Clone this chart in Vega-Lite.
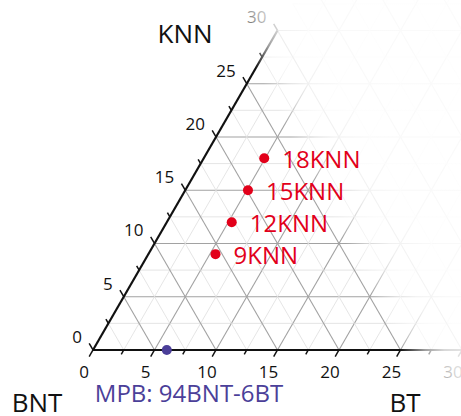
{
  "$schema": "https://vega.github.io/schema/vega-lite/v6.json",
  "width": 461,
  "height": 416,
  "padding": 0,
  "autosize": {"type": "none"},
  "background": "white",
  "config": {"view": {"stroke": null}, "font": "Open Sans"},
  "datasets": {
    "levels": [{"v": 2.5}, {"v": 5}, {"v": 7.5}, {"v": 10}, {"v": 12.5}, {"v": 15}, {"v": 17.5}, {"v": 20}, {"v": 22.5}, {"v": 25}, {"v": 27.5}, {"v": 30}, {"v": 32.5}, {"v": 35}, {"v": 37.5}, {"v": 40}, {"v": 42.5}, {"v": 45}, {"v": 47.5}],
    "ticks": [{"v": 0}, {"v": 2.5}, {"v": 5}, {"v": 7.5}, {"v": 10}, {"v": 12.5}, {"v": 15}, {"v": 17.5}, {"v": 20}, {"v": 22.5}, {"v": 25}, {"v": 27.5}, {"v": 30}],
    "labels": [{"v": 0}, {"v": 5}, {"v": 10}, {"v": 15}, {"v": 20}, {"v": 25}, {"v": 30}],
    "points": [
      {"label": "18KNN", "group": "KNN", "BNT": 77.08, "BT": 4.92, "KNN": 18},
      {"label": "15KNN", "group": "KNN", "BNT": 79.9, "BT": 5.1, "KNN": 15},
      {"label": "12KNN", "group": "KNN", "BNT": 82.72, "BT": 5.28, "KNN": 12},
      {"label": "9KNN", "group": "KNN", "BNT": 85.54, "BT": 5.46, "KNN": 9},
      {"label": "MPB: 94BNT-6BT", "group": "MPB", "BNT": 94, "BT": 6, "KNN": 0}
    ]
  },
  "layer": [
    {
      "data": {"name": "levels"},
      "transform": [
        {"calculate": "datum.v / 2", "as": "xa"},
        {"calculate": "60 + datum.v / 2", "as": "xb"},
        {"calculate": "datum.v * 0.8660254", "as": "ya"}
      ],
      "mark": {"type": "rule", "clip": true},
      "encoding": {
        "x": {"field": "xa", "type": "quantitative", "scale": {"domain": [-7.561, 29.919], "nice": false, "zero": false}, "axis": null},
        "x2": {"field": "xb"},
        "y": {"field": "ya", "type": "quantitative", "scale": {"domain": [-5.366, 28.455], "nice": false, "zero": false}, "axis": null},
        "y2": {"field": "ya"},
        "color": {"condition": {"test": "datum.v % 5 === 0", "value": "#a2a2a2"}, "value": "#dedede"},
        "strokeWidth": {"condition": {"test": "datum.v % 5 === 0", "value": 1.1}, "value": 0.8}
      }
    },
    {
      "data": {"name": "levels"},
      "transform": [
        {"calculate": "datum.v", "as": "xa"},
        {"calculate": "datum.v + 30", "as": "xb"},
        {"calculate": "0", "as": "ya"},
        {"calculate": "51.96", "as": "yb"}
      ],
      "mark": {"type": "rule", "clip": true},
      "encoding": {
        "x": {"field": "xa", "type": "quantitative", "scale": {"domain": [-7.561, 29.919], "nice": false, "zero": false}, "axis": null},
        "x2": {"field": "xb"},
        "y": {"field": "ya", "type": "quantitative", "scale": {"domain": [-5.366, 28.455], "nice": false, "zero": false}, "axis": null},
        "y2": {"field": "yb"},
        "color": {"condition": {"test": "datum.v % 5 === 0", "value": "#a2a2a2"}, "value": "#dedede"},
        "strokeWidth": {"condition": {"test": "datum.v % 5 === 0", "value": 1.1}, "value": 0.8}
      }
    },
    {
      "data": {"name": "levels"},
      "transform": [
        {"calculate": "datum.v", "as": "xa"},
        {"calculate": "datum.v / 2", "as": "xb"},
        {"calculate": "0", "as": "ya"},
        {"calculate": "datum.v * 0.8660254", "as": "yb"}
      ],
      "mark": {"type": "rule", "clip": true},
      "encoding": {
        "x": {"field": "xa", "type": "quantitative", "scale": {"domain": [-7.561, 29.919], "nice": false, "zero": false}, "axis": null},
        "x2": {"field": "xb"},
        "y": {"field": "ya", "type": "quantitative", "scale": {"domain": [-5.366, 28.455], "nice": false, "zero": false}, "axis": null},
        "y2": {"field": "yb"},
        "color": {"condition": {"test": "datum.v % 5 === 0", "value": "#a2a2a2"}, "value": "#dedede"},
        "strokeWidth": {"condition": {"test": "datum.v % 5 === 0", "value": 1.1}, "value": 0.8}
      }
    },
    {
      "data": {"values": [{}]},
      "mark": {"type": "rule", "color": "#111111", "strokeWidth": 2.2, "clip": true},
      "encoding": {
        "x": {"datum": 0, "type": "quantitative", "scale": {"domain": [-7.561, 29.919], "nice": false, "zero": false}, "axis": null},
        "x2": {"datum": 31},
        "y": {"datum": 0, "type": "quantitative", "scale": {"domain": [-5.366, 28.455], "nice": false, "zero": false}, "axis": null},
        "y2": {"datum": 0}
      }
    },
    {
      "data": {"values": [{}]},
      "mark": {"type": "rule", "color": "#111111", "strokeWidth": 2.2, "clip": true},
      "encoding": {
        "x": {"datum": 0, "type": "quantitative", "scale": {"domain": [-7.561, 29.919], "nice": false, "zero": false}, "axis": null},
        "x2": {"datum": 15},
        "y": {"datum": 0, "type": "quantitative", "scale": {"domain": [-5.366, 28.455], "nice": false, "zero": false}, "axis": null},
        "y2": {"datum": 25.98}
      }
    },
    {
      "data": {"name": "ticks"},
      "transform": [
        {"calculate": "datum.v % 5 === 0 ? 0.62 : 0.4", "as": "len"},
        {"calculate": "datum.v", "as": "xa"},
        {"calculate": "0", "as": "ya"},
        {"calculate": "datum.v - 0.5 * datum.len", "as": "xb"},
        {"calculate": "-0.8660254 * datum.len", "as": "yb"}
      ],
      "mark": {"type": "rule", "color": "#111111", "strokeWidth": 1.5, "clip": true},
      "encoding": {
        "x": {"field": "xa", "type": "quantitative", "scale": {"domain": [-7.561, 29.919], "nice": false, "zero": false}, "axis": null},
        "x2": {"field": "xb"},
        "y": {"field": "ya", "type": "quantitative", "scale": {"domain": [-5.366, 28.455], "nice": false, "zero": false}, "axis": null},
        "y2": {"field": "yb"}
      }
    },
    {
      "data": {"name": "ticks"},
      "transform": [
        {"calculate": "datum.v % 5 === 0 ? 0.62 : 0.4", "as": "len"},
        {"calculate": "datum.v / 2", "as": "xa"},
        {"calculate": "datum.v * 0.8660254", "as": "ya"},
        {"calculate": "datum.xa - 0.5 * datum.len", "as": "xb"},
        {"calculate": "datum.ya + 0.8660254 * datum.len", "as": "yb"}
      ],
      "mark": {"type": "rule", "color": "#111111", "strokeWidth": 1.5, "clip": true},
      "encoding": {
        "x": {"field": "xa", "type": "quantitative", "scale": {"domain": [-7.561, 29.919], "nice": false, "zero": false}, "axis": null},
        "x2": {"field": "xb"},
        "y": {"field": "ya", "type": "quantitative", "scale": {"domain": [-5.366, 28.455], "nice": false, "zero": false}, "axis": null},
        "y2": {"field": "yb"}
      }
    },
    {
      "data": {"name": "labels"},
      "transform": [
        {"calculate": "datum.v", "as": "xa"},
        {"calculate": "0", "as": "ya"}
      ],
      "mark": {"type": "text", "align": "center", "baseline": "alphabetic", "dx": -9, "dy": 28, "fontSize": 17, "color": "#111111"},
      "encoding": {
        "x": {"field": "xa", "type": "quantitative", "scale": {"domain": [-7.561, 29.919], "nice": false, "zero": false}, "axis": null},
        "y": {"field": "ya", "type": "quantitative", "scale": {"domain": [-5.366, 28.455], "nice": false, "zero": false}, "axis": null},
        "text": {"field": "v", "type": "quantitative"}
      }
    },
    {
      "data": {"name": "labels"},
      "transform": [
        {"calculate": "datum.v / 2", "as": "xa"},
        {"calculate": "datum.v * 0.8660254", "as": "ya"}
      ],
      "mark": {"type": "text", "align": "right", "baseline": "alphabetic", "dx": -11, "dy": -7, "fontSize": 17, "color": "#111111"},
      "encoding": {
        "x": {"field": "xa", "type": "quantitative", "scale": {"domain": [-7.561, 29.919], "nice": false, "zero": false}, "axis": null},
        "y": {"field": "ya", "type": "quantitative", "scale": {"domain": [-5.366, 28.455], "nice": false, "zero": false}, "axis": null},
        "text": {"field": "v", "type": "quantitative"}
      }
    },
    {
      "data": {"values": [{}]},
      "mark": {
        "type": "rect",
        "clip": true,
        "strokeWidth": 0,
        "fill": {
          "gradient": "linear",
          "x1": 0.5, "y1": 0.5,
          "x2": 0.945, "y2": 0.2715,
          "stops": [
            {"offset": 0, "color": "rgba(255,255,255,0)"},
            {"offset": 0.555, "color": "rgba(255,255,255,0)"},
            {"offset": 0.6, "color": "rgba(255,255,255,0.6)"},
            {"offset": 0.635, "color": "rgba(255,255,255,0.84)"},
            {"offset": 0.7, "color": "rgba(255,255,255,0.93)"},
            {"offset": 1, "color": "rgba(255,255,255,0.96)"}
          ]
        }
      },
      "encoding": {
        "x": {"datum": -40, "type": "quantitative", "scale": {"domain": [-7.561, 29.919], "nice": false, "zero": false}, "axis": null},
        "x2": {"datum": 40},
        "y": {"datum": -40, "type": "quantitative", "scale": {"domain": [-5.366, 28.455], "nice": false, "zero": false}, "axis": null},
        "y2": {"datum": 40}
      }
    },
    {
      "data": {"name": "points"},
      "transform": [
        {"calculate": "datum.BT + datum.KNN / 2", "as": "xa"},
        {"calculate": "datum.KNN * 0.8660254", "as": "ya"}
      ],
      "mark": {"type": "circle", "size": 100, "opacity": 1},
      "encoding": {
        "x": {"field": "xa", "type": "quantitative", "scale": {"domain": [-7.561, 29.919], "nice": false, "zero": false}, "axis": null},
        "y": {"field": "ya", "type": "quantitative", "scale": {"domain": [-5.366, 28.455], "nice": false, "zero": false}, "axis": null},
        "color": {"field": "group", "type": "nominal", "scale": {"domain": ["KNN", "MPB"], "range": ["#e2001a", "#4b3f99"]}, "legend": null}
      }
    },
    {
      "data": {"name": "points"},
      "transform": [
        {"filter": "datum.group === 'KNN'"},
        {"calculate": "datum.BT + datum.KNN / 2", "as": "xa"},
        {"calculate": "datum.KNN * 0.8660254", "as": "ya"}
      ],
      "mark": {"type": "text", "align": "left", "baseline": "alphabetic", "dx": 18, "dy": 10, "fontSize": 24, "color": "#e2001a"},
      "encoding": {
        "x": {"field": "xa", "type": "quantitative", "scale": {"domain": [-7.561, 29.919], "nice": false, "zero": false}, "axis": null},
        "y": {"field": "ya", "type": "quantitative", "scale": {"domain": [-5.366, 28.455], "nice": false, "zero": false}, "axis": null},
        "text": {"field": "label", "type": "nominal"}
      }
    },
    {
      "data": {"name": "points"},
      "transform": [
        {"filter": "datum.group === 'MPB'"},
        {"calculate": "datum.BT + datum.KNN / 2", "as": "xa"},
        {"calculate": "datum.KNN * 0.8660254", "as": "ya"}
      ],
      "mark": {"type": "text", "align": "left", "baseline": "alphabetic", "dx": -72, "dy": 52, "fontSize": 24, "color": "#4b3f99"},
      "encoding": {
        "x": {"field": "xa", "type": "quantitative", "scale": {"domain": [-7.561, 29.919], "nice": false, "zero": false}, "axis": null},
        "y": {"field": "ya", "type": "quantitative", "scale": {"domain": [-5.366, 28.455], "nice": false, "zero": false}, "axis": null},
        "text": {"field": "label", "type": "nominal"}
      }
    },
    {
      "data": {"values": [{}]},
      "mark": {"type": "text", "text": "KNN", "align": "center", "baseline": "alphabetic", "dx": -92.5, "dy": 12.5, "fontSize": 26, "color": "#111111"},
      "encoding": {
        "x": {"datum": 15, "type": "quantitative", "scale": {"domain": [-7.561, 29.919], "nice": false, "zero": false}, "axis": null},
        "y": {"datum": 25.98, "type": "quantitative", "scale": {"domain": [-5.366, 28.455], "nice": false, "zero": false}, "axis": null}
      }
    },
    {
      "data": {"values": [{}]},
      "mark": {"type": "text", "text": "BNT", "align": "center", "baseline": "alphabetic", "dx": -56, "dy": 62, "fontSize": 26, "color": "#111111"},
      "encoding": {
        "x": {"datum": 0, "type": "quantitative", "scale": {"domain": [-7.561, 29.919], "nice": false, "zero": false}, "axis": null},
        "y": {"datum": 0, "type": "quantitative", "scale": {"domain": [-5.366, 28.455], "nice": false, "zero": false}, "axis": null}
      }
    },
    {
      "data": {"values": [{}]},
      "mark": {"type": "text", "text": "BT", "align": "center", "baseline": "alphabetic", "dx": -57, "dy": 62, "fontSize": 26, "color": "#111111"},
      "encoding": {
        "x": {"datum": 30, "type": "quantitative", "scale": {"domain": [-7.561, 29.919], "nice": false, "zero": false}, "axis": null},
        "y": {"datum": 0, "type": "quantitative", "scale": {"domain": [-5.366, 28.455], "nice": false, "zero": false}, "axis": null}
      }
    }
  ]
}
